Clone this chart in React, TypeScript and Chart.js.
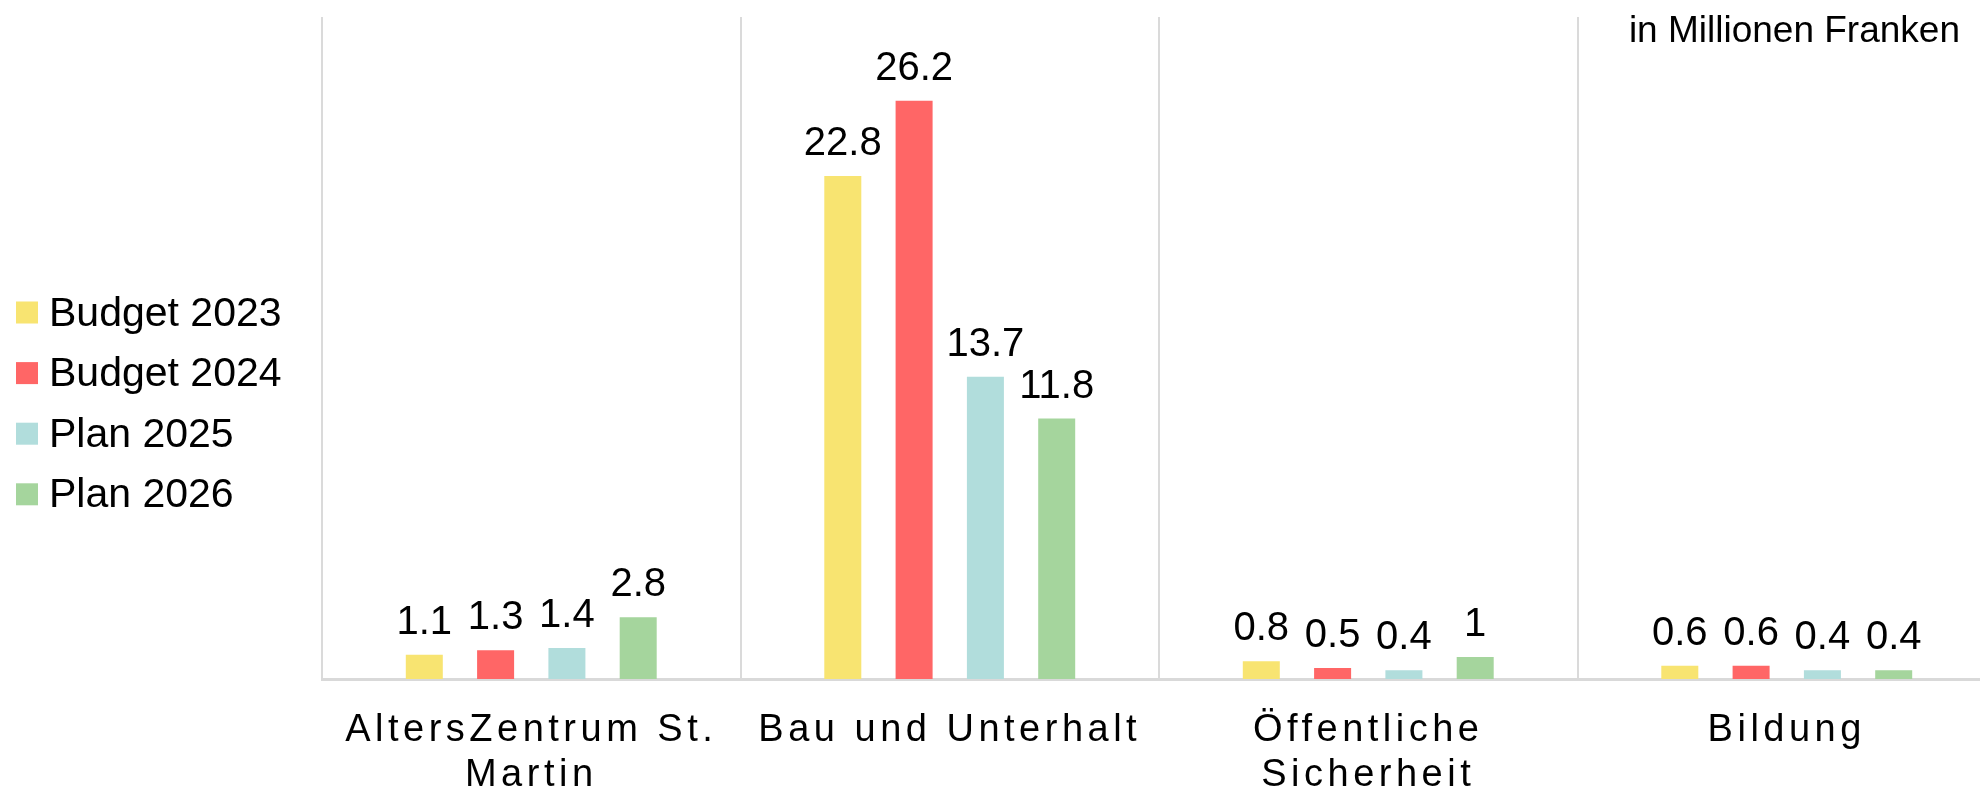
import React, { useEffect, useRef } from 'react';
import { Chart, registerables } from 'chart.js';

Chart.register(...registerables);

const categories: (string | string[])[] = [
  ['AltersZentrum St.', 'Martin'],
  'Bau und Unterhalt',
  ['Öffentliche', 'Sicherheit'],
  'Bildung',
];
const seriesNames = ['Budget 2023', 'Budget 2024', 'Plan 2025', 'Plan 2026'];
const budget2023 = [1.1, 22.8, 0.8, 0.6];
const budget2024 = [1.3, 26.2, 0.5, 0.6];
const plan2025 = [1.4, 13.7, 0.4, 0.4];
const plan2026 = [2.8, 11.8, 1, 0.4];
const seriesColors = ['#F8E471', '#FF6666', '#B1DDDC', '#A5D59D'];
const unitLabel = 'in Millionen Franken';
const yMin = 0;
const yMax = 30;

const FONT = '"Liberation Sans", Arial, sans-serif';

const letterSpacingPlugin = {
  id: 'xLetterSpacing',
  beforeDraw(chart: any) {
    chart.ctx.letterSpacing = '4.5px';
  },
  beforeDatasetsDraw(chart: any) {
    chart.ctx.letterSpacing = '0px';
  },
};

const valueLabelPlugin = {
  id: 'valueLabels',
  afterDatasetsDraw(chart: any) {
    const ctx = chart.ctx;
    ctx.save();
    ctx.letterSpacing = '0px';
    ctx.font = `40px ${FONT}`;
    ctx.fillStyle = '#000';
    ctx.textAlign = 'center';
    ctx.textBaseline = 'alphabetic';
    chart.data.datasets.forEach((ds: any, i: number) => {
      const meta = chart.getDatasetMeta(i);
      meta.data.forEach((bar: any, j: number) => {
        ctx.fillText(String(ds.data[j]), bar.x, bar.y - 21);
      });
    });
    ctx.restore();
  },
};

const unitTitlePlugin = {
  id: 'unitTitle',
  afterDraw(chart: any) {
    const ctx = chart.ctx;
    ctx.save();
    ctx.letterSpacing = '0px';
    ctx.font = `37px ${FONT}`;
    ctx.fillStyle = '#000';
    ctx.textAlign = 'right';
    ctx.textBaseline = 'alphabetic';
    ctx.fillText(unitLabel, 1952, 34);
    ctx.restore();
  },
};

const sideLegendPlugin = {
  id: 'sideLegend',
  afterDraw(chart: any) {
    const ctx = chart.ctx;
    ctx.save();
    ctx.letterSpacing = '0px';
    ctx.font = `41px ${FONT}`;
    ctx.textAlign = 'left';
    ctx.textBaseline = 'alphabetic';
    const boxX = 8;
    const box = 22;
    const firstCenter = 304.5;
    const step = 60.6;
    chart.data.datasets.forEach((ds: any, i: number) => {
      const cy = firstCenter + i * step;
      ctx.fillStyle = ds.backgroundColor;
      ctx.fillRect(boxX, cy - box / 2, box, box);
      ctx.fillStyle = '#000';
      ctx.fillText(ds.label, 41, cy + 13);
    });
    ctx.restore();
  },
};

export default function App() {
  const canvasRef = useRef<HTMLCanvasElement | null>(null);

  useEffect(() => {
    if (!canvasRef.current) return;
    Chart.defaults.font.family = FONT;
    const seriesValues = [budget2023, budget2024, plan2025, plan2026];
    const chart = new Chart(canvasRef.current, {
      type: 'bar',
      data: {
        labels: categories,
        datasets: seriesValues.map((vals, i) => ({
          label: seriesNames[i],
          data: vals,
          backgroundColor: seriesColors[i],
          borderWidth: 0,
          categoryPercentage: 0.6815,
          barPercentage: 0.519,
        })),
      },
      options: {
        responsive: false,
        animation: false,
        layout: { padding: { left: 314, top: 9, right: 2, bottom: 0 } },
        plugins: {
          legend: { display: false },
          tooltip: { enabled: false },
          title: { display: false },
        },
        scales: {
          x: {
            offset: true,
            grid: {
              display: true,
              offset: true,
              color: '#dadada',
              lineWidth: 2,
              drawTicks: false,
            },
            border: { display: true, color: '#d9d9d9', width: 3 },
            ticks: {
              color: '#000',
              font: { size: 38, lineHeight: 1.184, family: FONT },
              padding: 29,
              maxRotation: 0,
              minRotation: 0,
              autoSkip: false,
            },
          },
          y: {
            display: false,
            min: yMin,
            max: yMax,
          },
        },
      },
      plugins: [letterSpacingPlugin, valueLabelPlugin, unitTitlePlugin, sideLegendPlugin],
    });
    return () => chart.destroy();
  }, []);

  return (
    <div
      style={{
        position: 'fixed',
        left: 0,
        top: 0,
        width: 1980,
        height: 794,
        overflow: 'hidden',
        background: '#fff',
      }}
    >
      <div style={{ position: 'absolute', left: 8, top: 8, width: 1990, height: 819 }}>
        <canvas
          ref={canvasRef}
          width={1990}
          height={819}
          style={{ display: 'block', width: 1990, height: 819 }}
        />
      </div>
    </div>
  );
}
